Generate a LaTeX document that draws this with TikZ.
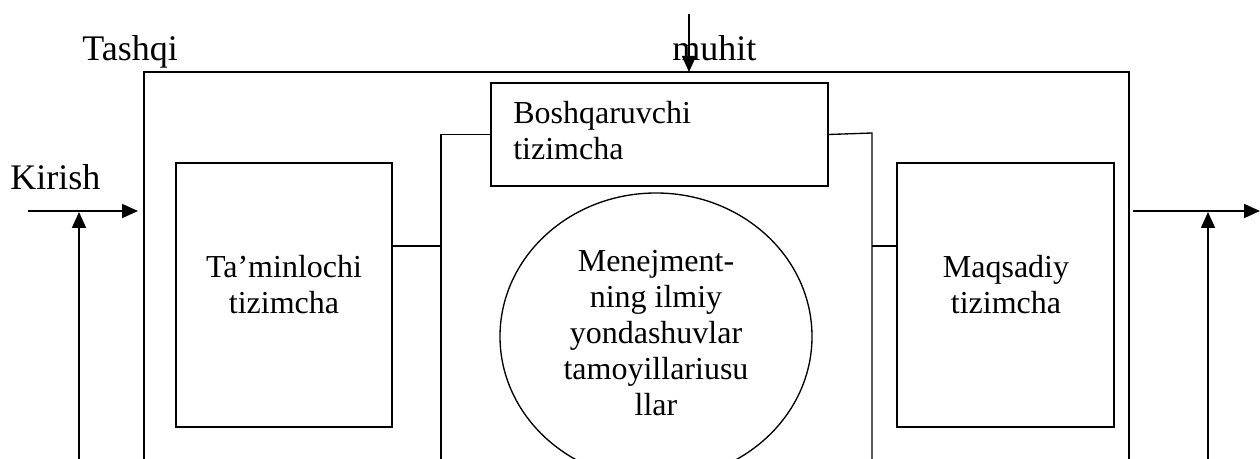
\documentclass[tikz,border=0pt]{standalone}
\usepackage{fontspec}
\setmainfont{Liberation Serif}
\usetikzlibrary{arrows.meta,shapes.geometric}
\begin{document}
\begin{tikzpicture}[x=0.75pt,y=-0.75pt,
  frame/.style={line width=1.1pt},
  box/.style={draw,line width=1pt,rectangle,inner sep=0},
  link/.style={line width=1pt},
  flow/.style={line width=1.3pt,-{Triangle[length=12pt,width=10.5pt]}},
  lbl/.style={inner sep=0,font=\fontsize{27}{32}\selectfont},
  txt/.style={inner sep=0,align=center,font=\fontsize{24}{27}\selectfont}]
\useasboundingbox (0,0) rectangle (1260,459);
\clip (0,0) rectangle (1260,459);

% outer system frame (open at the bottom)
\coordinate (fbl) at (144,459);
\coordinate (ftl) at (144,72);
\coordinate (ftr) at (1129,72);
\coordinate (fbr) at (1129,459);
\draw[frame] (fbl) -- (ftl) -- (ftr) -- (fbr);

% environment labels
\node[lbl,anchor=base west] (tashqi) at (82,61) {Tashqi};
\node[lbl,anchor=base west] (muhit) at (672,61) {muhit};
\node[lbl,anchor=base west] (kirish) at (10,190) {Kirish};

% subsystems
\node[box,minimum width=162pt,minimum height=198pt] (lb) at (284,295) {};
\node[txt,anchor=north] (lbt) at (284,255) {Ta’minlochi\\tizimcha};

\node[box,minimum width=162.75pt,minimum height=198pt] (rb) at (1005.5,295) {};
\node[txt,anchor=north] (rbt) at (1006,255) {Maqsadiy\\tizimcha};

\node[box,minimum width=252.75pt,minimum height=77.25pt] (bq) at (659.5,134.5) {};
\node[txt,align=left,anchor=north west] (bqt) at (513,101) {Boshqaruvchi\\tizimcha};

\node[draw,ellipse,line width=1pt,inner sep=0,minimum width=234pt,minimum height=215.25pt] (el) at (656,336.5) {};
\node[txt,anchor=north] (elt) at (656,250) {Menejment-\\ning ilmiy\\yondashuvlar\\tamoyillariusu\\llar};

% links between the subsystems
\coordinate (lbus) at (441,459);
\coordinate (rbend) at (872,133);
\coordinate (rbus) at (872,459);
\coordinate (lj) at (441,246);
\coordinate (rj) at (872,246);
\draw[link] (bq.west) -| (lbus);
\draw[link] (bq.east) -- (rbend) -- (rbus);
\draw[link] (lb.east |- lj) -- (lj);
\draw[link] (rj) -- (rb.west |- rj);

% inputs and outputs
\coordinate (topin) at (689,14);
\draw[flow] (topin) -- (topin |- ftl);
\coordinate (inL) at (28,211);
\coordinate (inR) at (138,211);
\draw[flow] (inL) -- (inR);
\coordinate (fbL) at (79,459);
\draw[flow] (fbL) -- (79,212);
\coordinate (outL) at (1133,211);
\coordinate (outR) at (1260,211);
\draw[flow] (outL) -- (outR);
\coordinate (fbR) at (1208,459);
\draw[flow] (fbR) -- (1208,212);
\end{tikzpicture}
\end{document}
